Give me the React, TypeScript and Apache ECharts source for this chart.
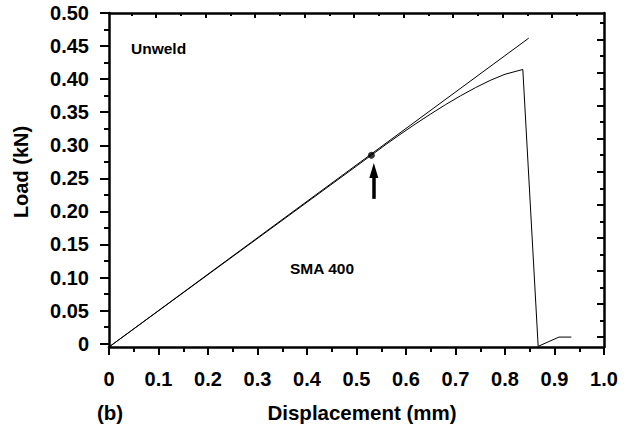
import React, { useEffect, useRef } from "react";
import * as echarts from "echarts";

// Axis ranges (mm on x, kN on y)
const X_MIN = 0;
const X_MAX = 1.0;
const X_STEP = 0.1;
const Y_MIN = -0.005;
const Y_MAX = 0.5;

// Left-axis ticks / labels
const yMajorTicks = [0, 0.05, 0.1, 0.15, 0.2, 0.25, 0.3, 0.35, 0.4, 0.45, 0.5];
const yMinorTicks = [0.025, 0.075, 0.125, 0.175, 0.225, 0.275, 0.325, 0.375, 0.425, 0.475];
// Frame ticks on the right and top edges
const rightMajorTicks = [0.01, 0.06, 0.11, 0.16, 0.21, 0.26, 0.31, 0.36, 0.41, 0.46];
const rightMinorTicks = [0.035, 0.085, 0.135, 0.185, 0.235, 0.285, 0.335, 0.385, 0.435, 0.485];
const topMajorTicks = [0.095, 0.195, 0.295, 0.395, 0.495, 0.595, 0.695, 0.795, 0.895];
const topMinorTicks = [0.045, 0.145, 0.245, 0.345, 0.445, 0.545, 0.645, 0.745, 0.845, 0.945];

// Unwelded reference: linear elastic line
const unweldX = [0, 0.848];
const unweldY = [-0.005, 0.462];

// SMA 400 load-displacement curve
const smaX = [0, 0.53, 0.56, 0.59, 0.62, 0.65, 0.68, 0.71, 0.74, 0.77, 0.8, 0.836, 0.867, 0.909, 0.934];
const smaY = [-0.005, 0.285, 0.3015, 0.3174, 0.3327, 0.3474, 0.3615, 0.3747, 0.387, 0.3981, 0.4074, 0.4146, -0.004, 0.01, 0.01];

// Departure from linearity, marked by a dot and an arrow
const onsetPoint = [0.53, 0.285];
const arrowX = 0.535;
const arrowFromY = 0.219;
const arrowToY = 0.262;

const FONT = "'Liberation Sans', Arial, Helvetica, sans-serif";
const BLACK = "#000";

const zip = (xs: number[], ys: number[]) => xs.map((x, i) => [x, ys[i]]);

export default function App() {
  const ref = useRef<HTMLDivElement>(null);

  useEffect(() => {
    if (!ref.current) return;
    const chart = echarts.init(ref.current, null, { renderer: "svg" });

    const tickLabel = {
      color: BLACK,
      fontFamily: FONT,
      fontWeight: "bold" as const,
      fontSize: 20,
    };
    const frameLine = { show: true, lineStyle: { color: BLACK, width: 2.5 } };
    const noSplit = { show: false };

    chart.setOption({
      animation: false,
      backgroundColor: "#fff",
      grid: { left: 109, right: 31, top: 13, bottom: 80, containLabel: false },
      xAxis: [
        {
          type: "value",
          position: "bottom",
          min: X_MIN,
          max: X_MAX,
          interval: X_STEP,
          axisLine: { ...frameLine, onZero: false },
          axisTick: { show: true, length: 8, lineStyle: { color: BLACK, width: 2 } },
          minorTick: { show: true, splitNumber: 2, length: 5, lineStyle: { color: BLACK, width: 2 } },
          axisLabel: {
            ...tickLabel,
            margin: 22,
            formatter: (v: number) => (v === 0 ? "0" : v.toFixed(1)),
          },
          splitLine: noSplit,
          minorSplitLine: noSplit,
        },
        {
          type: "value",
          position: "top",
          min: X_MIN,
          max: X_MAX,
          axisLine: { ...frameLine, onZero: false },
          axisTick: {
            show: true,
            inside: true,
            length: 5,
            customValues: topMajorTicks,
            lineStyle: { color: BLACK, width: 2 },
          },
          axisLabel: { show: false },
          splitLine: noSplit,
        },
        {
          type: "value",
          position: "top",
          min: X_MIN,
          max: X_MAX,
          axisLine: { show: false, onZero: false },
          axisTick: {
            show: true,
            inside: true,
            length: 3,
            customValues: topMinorTicks,
            lineStyle: { color: BLACK, width: 2 },
          },
          axisLabel: { show: false },
          splitLine: noSplit,
        },
      ],
      yAxis: [
        {
          type: "value",
          position: "left",
          min: Y_MIN,
          max: Y_MAX,
          axisLine: { ...frameLine, onZero: false },
          axisTick: {
            show: true,
            length: 9,
            customValues: yMajorTicks,
            lineStyle: { color: BLACK, width: 2 },
          },
          axisLabel: {
            ...tickLabel,
            margin: 20,
            customValues: yMajorTicks,
            formatter: (v: number) => (Math.abs(v) < 1e-9 ? "0" : v.toFixed(2)),
          },
          splitLine: noSplit,
        },
        {
          type: "value",
          position: "left",
          min: Y_MIN,
          max: Y_MAX,
          axisLine: { show: false, onZero: false },
          axisTick: {
            show: true,
            length: 5,
            customValues: yMinorTicks,
            lineStyle: { color: BLACK, width: 2 },
          },
          axisLabel: { show: false },
          splitLine: noSplit,
        },
        {
          type: "value",
          position: "right",
          min: Y_MIN,
          max: Y_MAX,
          axisLine: { ...frameLine, onZero: false },
          axisTick: {
            show: true,
            inside: true,
            length: 7,
            customValues: rightMajorTicks,
            lineStyle: { color: BLACK, width: 2 },
          },
          axisLabel: { show: false },
          splitLine: noSplit,
        },
        {
          type: "value",
          position: "right",
          min: Y_MIN,
          max: Y_MAX,
          axisLine: { show: false, onZero: false },
          axisTick: {
            show: true,
            inside: true,
            length: 4,
            customValues: rightMinorTicks,
            lineStyle: { color: BLACK, width: 2 },
          },
          axisLabel: { show: false },
          splitLine: noSplit,
        },
      ],
      series: [
        {
          name: "Unweld",
          type: "line",
          xAxisIndex: 0,
          yAxisIndex: 0,
          data: zip(unweldX, unweldY),
          showSymbol: false,
          symbol: "none",
          lineStyle: { color: BLACK, width: 1 },
          silent: true,
          z: 3,
        },
        {
          name: "SMA 400",
          type: "line",
          xAxisIndex: 0,
          yAxisIndex: 0,
          data: zip(smaX, smaY),
          showSymbol: false,
          symbol: "none",
          lineStyle: { color: BLACK, width: 1 },
          silent: true,
          z: 3,
          markLine: {
            silent: true,
            symbol: ["none", "triangle"],
            symbolSize: [9, 15],
            label: { show: false },
            lineStyle: { color: BLACK, width: 3.5, type: "solid" },
            data: [
              [
                { coord: [arrowX, arrowFromY] },
                { coord: [arrowX, arrowToY] },
              ],
            ],
          },
        },
        {
          name: "onset",
          type: "scatter",
          xAxisIndex: 0,
          yAxisIndex: 0,
          data: [onsetPoint],
          symbol: "circle",
          symbolSize: 7,
          itemStyle: { color: BLACK },
          silent: true,
          z: 4,
        },
      ],
      graphic: [
        {
          type: "text",
          x: 131,
          y: 48,
          style: {
            text: "Unweld",
            fill: BLACK,
            font: `bold 15.5px ${FONT}`,
            align: "left",
            verticalAlign: "middle",
          },
        },
        {
          type: "text",
          x: 290,
          y: 268,
          style: {
            text: "SMA 400",
            fill: BLACK,
            font: `bold 15.5px ${FONT}`,
            align: "left",
            verticalAlign: "middle",
          },
        },
        {
          type: "text",
          x: 97,
          y: 412,
          style: {
            text: "(b)",
            fill: BLACK,
            font: `bold 20.5px ${FONT}`,
            align: "left",
            verticalAlign: "middle",
          },
        },
        {
          type: "text",
          x: 362,
          y: 412,
          style: {
            text: "Displacement (mm)",
            fill: BLACK,
            font: `bold 20.5px ${FONT}`,
            align: "center",
            verticalAlign: "middle",
          },
        },
        {
          type: "text",
          x: 21,
          y: 172,
          rotation: Math.PI / 2,
          style: {
            text: "Load (kN)",
            fill: BLACK,
            font: `bold 20px ${FONT}`,
            align: "center",
            verticalAlign: "middle",
          },
        },
      ],
    });

    return () => chart.dispose();
  }, []);

  return (
    <div
      ref={ref}
      style={{ position: "absolute", left: 0, top: 0, width: 635, height: 427, background: "#fff" }}
    />
  );
}
